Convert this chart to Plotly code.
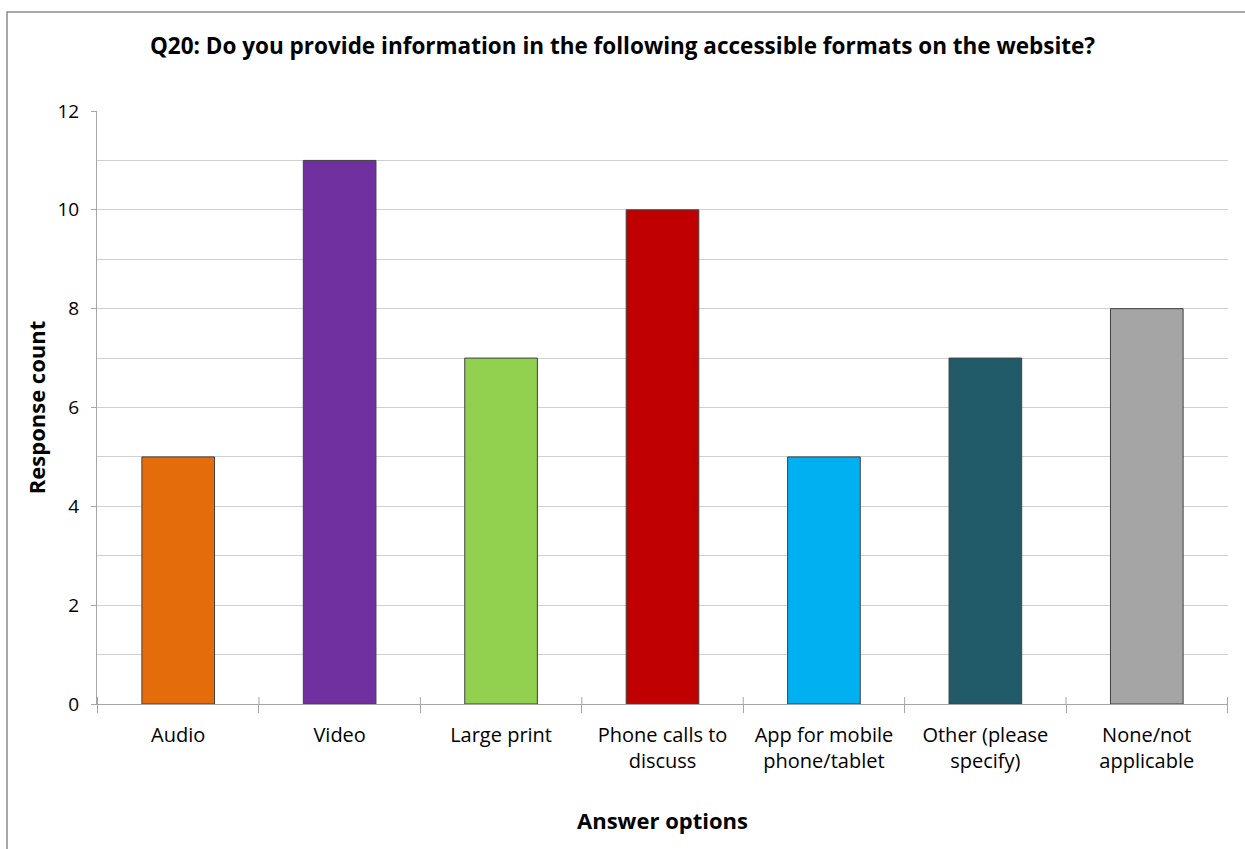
import plotly.graph_objects as go

categories = ["Audio", "Video", "Large print", "Phone calls to<br>discuss",
              "App for mobile<br>phone/tablet", "Other (please<br>specify)",
              "None/not<br>applicable"]
counts = [5, 11, 7, 10, 5, 7, 8]
colors = ["#E46C0A", "#7030A0", "#92D050", "#C00000", "#00B0F0", "#215A69", "#A5A5A5"]
y_ticks = [0, 2, 4, 6, 8, 10, 12]

W, H = 1245, 849
L, R, T, B = 97, 17, 111, 145
FONT = "Open Sans"

fig = go.Figure(go.Bar(
    x=categories, y=counts,
    marker=dict(color=colors, line=dict(color="#404040", width=1)),
    width=0.45,
))

# gridlines at every unit, labels every two
fig.update_yaxes(
    range=[0, 12], tickvals=y_ticks, ticks="outside", ticklen=5, tickcolor="#A6A6A6",
    showgrid=True, gridcolor="#D0D0D0", gridwidth=1,
    minor=dict(dtick=1, showgrid=True, gridcolor="#D0D0D0", gridwidth=1),
    showline=True, linecolor="#A6A6A6", linewidth=1,
    tickfont=dict(family=FONT, size=19, color="#000"),
    ticklabelstandoff=8,
    title=dict(text="<b>Response count</b>", font=dict(family=FONT, size=22, color="#000"),
               standoff=5),
    zeroline=False, fixedrange=True,
)
fig.update_xaxes(
    tickson="boundaries", ticks="outside", ticklen=8, tickcolor="#A6A6A6",
    showline=True, linecolor="#A6A6A6", linewidth=1, showgrid=False,
    tickfont=dict(family=FONT, size=20, color="#000"),
    ticklabelstandoff=13,
    title=dict(text="<b>Answer options</b>", font=dict(family=FONT, size=22, color="#000"),
               standoff=40),
)

# category boundary ticks also cross slightly above the axis
plot_h = H - T - B
for i in range(len(categories) + 1):
    fig.add_shape(type="line", xref="x", yref="paper",
                  x0=i - 0.5, x1=i - 0.5, y0=0, y1=7 / plot_h,
                  line=dict(color="#A6A6A6", width=1))

# outer chart border
plot_w = W - L - R
fig.add_shape(type="rect", xref="paper", yref="paper",
              x0=(7 - L) / plot_w, x1=(W + 5 - L) / plot_w,
              y0=-(H + 5 - T - plot_h) / plot_h, y1=(H - 12 - B) / plot_h,
              line=dict(color="#8C8C8C", width=1.5), fillcolor="rgba(0,0,0,0)",
              layer="below")

fig.update_layout(
    width=W, height=H,
    margin=dict(l=L, r=R, t=T, b=B),
    paper_bgcolor="white", plot_bgcolor="white",
    title=dict(text="<b>Q20: Do you provide information in the following accessible formats on the website?</b>",
               font=dict(family=FONT, size=22.5, color="#000"),
               x=0.5, xanchor="center", y=1 - 46 / H, yanchor="middle"),
    showlegend=False,
    bargap=0.55,
)

fig.write_html("out.html")
